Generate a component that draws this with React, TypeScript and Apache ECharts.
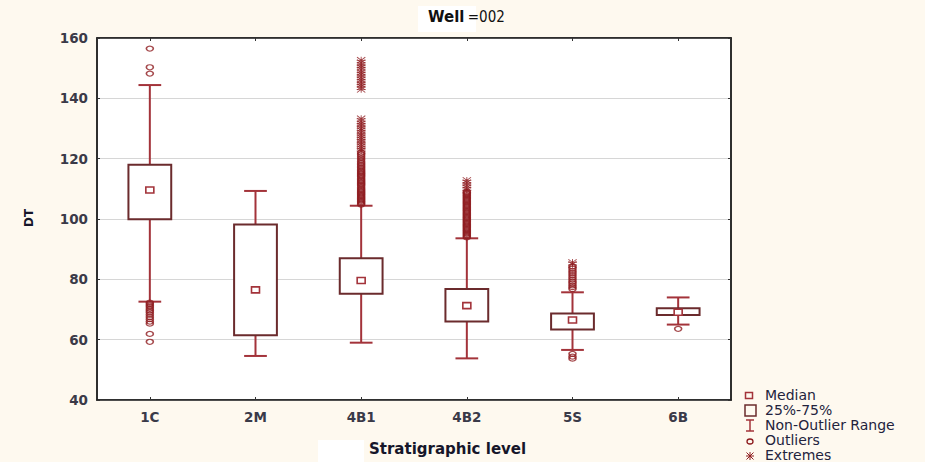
import React, { useEffect, useRef } from "react";
import * as echarts from "echarts";

const categories = ["1C", "2M", "4B1", "4B2", "5S", "6B"];
const yTicks = [40, 60, 80, 100, 120, 140, 160];

// box statistics per stratigraphic level
const whiskerLow = [72.6, 54.6, 59.0, 53.8, 56.6, 65.0];
const q1 = [99.9, 61.5, 75.2, 66.0, 63.4, 68.2];
const medianVals = [109.6, 76.5, 79.6, 71.3, 66.5, 69.1];
const q3 = [118.0, 98.2, 87.0, 76.8, 68.7, 70.4];
const whiskerHigh = [144.4, 109.3, 104.4, 93.6, 75.7, 74.0];

// outliers (circles) per level
const outliers1C = [156.5, 150.3, 148.2, 72.3, 71.8, 71.3, 70.8, 70.2, 69.6, 69.0, 68.3, 67.5, 66.8, 66.0, 65.3, 61.9, 59.3];
const outliers2M: number[] = [];
const outliers4B1 = [104.8, 105.2, 105.6, 106.0, 106.4, 106.8, 107.2, 107.6, 108.0, 108.4, 108.8, 109.2, 109.6, 110.0, 110.5, 111.0, 111.4, 111.8, 112.2, 112.6, 113.0, 113.5, 114.0, 114.4, 114.8, 115.2, 115.6, 116.0, 116.5, 117.0, 117.5, 118.0, 118.5, 119.0, 119.6, 120.2, 120.8, 121.4, 122.0];
const outliers4B2 = [93.9, 94.3, 94.7, 95.1, 95.5, 95.9, 96.3, 96.7, 97.1, 97.5, 97.9, 98.3, 98.7, 99.1, 99.5, 99.9, 100.3, 100.7, 101.1, 101.5, 101.9, 102.3, 102.7, 103.1, 103.5, 103.9, 104.3, 104.7, 105.1, 105.5, 105.9, 106.3, 106.7, 107.1, 107.5, 107.9, 108.3, 108.7, 109.0];
const outliers5S = [76.8, 77.4, 78.0, 78.7, 79.3, 80.0, 80.7, 81.4, 82.1, 82.8, 83.5, 84.2, 55.3, 54.4, 53.7];
const outliers6B = [63.6];

// extremes (asterisks) per level
const extremes1C: number[] = [];
const extremes2M: number[] = [];
const extremes4B1 = [122.6, 123.3, 124.0, 124.8, 125.5, 126.3, 127.0, 127.8, 128.5, 129.3, 130.0, 130.8, 131.6, 132.4, 133.2, 143.0, 143.8, 144.6, 145.4, 146.2, 147.0, 147.8, 148.6, 149.4, 150.2, 151.0, 151.8, 152.6];
const extremes4B2 = [109.6, 110.4, 111.2, 112.0, 112.8];
const extremes5S = [85.0, 85.6];
const extremes6B: number[] = [];

const outlierLists = [outliers1C, outliers2M, outliers4B1, outliers4B2, outliers5S, outliers6B];
const extremeLists = [extremes1C, extremes2M, extremes4B1, extremes4B2, extremes5S, extremes6B];

const legendItems = ["Median", "25%-75%", "Non-Outlier Range", "Outliers", "Extremes"];

const WHISKER = "#a3333a";
const BOXC = "#6b2b2d";
const PT = "#8e1c1f";
const BG = "#fef9ef";

const ASTERISK =
  "path://M4.5,0h1v10h-1z M0,4.5h10v1h-10z M0.8,0L10,9.2L9.2,10L0,0.8z M9.2,0L10,0.8L0.8,10L0,9.2z";

export default function App() {
  const ref = useRef<HTMLDivElement>(null);
  useEffect(() => {
    if (!ref.current) return;
    const chart = echarts.init(ref.current, null, { renderer: "svg" });

    const boxData = categories.map((_, i) => [i, whiskerLow[i], q1[i], medianVals[i], q3[i], whiskerHigh[i]]);
    const outData: number[][] = [];
    outlierLists.forEach((arr, i) => arr.forEach((v) => outData.push([i, v])));
    const extData: number[][] = [];
    extremeLists.forEach((arr, i) => arr.forEach((v) => extData.push([i, v])));

    const tickFont = {
      fontFamily: "DejaVu Sans, Arial",
      fontSize: 13.5,
      fontWeight: "bold" as const,
      color: "#3a3a48",
    };

    const legendY = [396, 411, 426, 441, 456];
    const legendGraphics: any[] = legendItems.map((t, i) => ({
      type: "text",
      left: 765,
      top: legendY[i] - 8,
      style: {
        text: t,
        fill: "#23233d",
        font: "14px 'DejaVu Sans', Arial",
      },
    }));

    const option: any = {
      animation: false,
      backgroundColor: BG,
      grid: {
        left: 97,
        right: 194,
        top: 38,
        bottom: 62,
        show: true,
        backgroundColor: "#ffffff",
        borderColor: "#222",
        borderWidth: 1.5,
      },
      xAxis: [
        {
          type: "category",
          data: categories,
          position: "bottom",
          axisLine: { show: true, lineStyle: { color: "#222", width: 1.5 } },
          axisTick: { show: true, inside: true, alignWithLabel: true, length: 3, lineStyle: { color: "#333" } },
          axisLabel: { ...tickFont, margin: 10 },
          splitLine: { show: false },
        },
        {
          type: "category",
          data: categories,
          position: "top",
          axisLine: { show: true, lineStyle: { color: "#222", width: 1.5 } },
          axisTick: { show: true, inside: true, alignWithLabel: true, length: 3, lineStyle: { color: "#333" } },
          axisLabel: { show: false },
        },
      ],
      yAxis: [
        {
          type: "value",
          min: yTicks[0],
          max: yTicks[yTicks.length - 1],
          interval: 20,
          axisLine: { show: true, lineStyle: { color: "#222", width: 1.5 } },
          axisTick: { show: true, inside: true, length: 3, lineStyle: { color: "#333" } },
          axisLabel: { ...tickFont, margin: 9 },
          splitLine: { show: true, lineStyle: { color: "#d6d6d6", width: 1.2 } },
        },
        {
          type: "value",
          position: "right",
          min: yTicks[0],
          max: yTicks[yTicks.length - 1],
          interval: 20,
          axisLine: { show: true, lineStyle: { color: "#222", width: 1.5 } },
          axisTick: { show: true, inside: true, length: 3, lineStyle: { color: "#333" } },
          axisLabel: { show: false },
          splitLine: { show: false },
        },
      ],
      series: [
        {
          type: "custom",
          xAxisIndex: 0,
          yAxisIndex: 0,
          data: boxData,
          encode: { x: 0, y: [1, 2, 3, 4, 5] },
          z: 3,
          renderItem: (params: any, api: any) => {
            const x = api.value(0);
            const lo = api.coord([x, api.value(1)]);
            const a = api.coord([x, api.value(2)]);
            const m = api.coord([x, api.value(3)]);
            const b = api.coord([x, api.value(4)]);
            const hi = api.coord([x, api.value(5)]);
            const band = api.size([1, 0])[0];
            const bw = band * 0.405;
            const cw = band * 0.215;
            const cx = m[0];
            const ws = { stroke: WHISKER, lineWidth: 2 };
            return {
              type: "group",
              children: [
                { type: "line", shape: { x1: cx, y1: hi[1], x2: cx, y2: b[1] }, style: ws },
                { type: "line", shape: { x1: cx, y1: a[1], x2: cx, y2: lo[1] }, style: ws },
                { type: "line", shape: { x1: cx - cw / 2, y1: hi[1], x2: cx + cw / 2, y2: hi[1] }, style: ws },
                { type: "line", shape: { x1: cx - cw / 2, y1: lo[1], x2: cx + cw / 2, y2: lo[1] }, style: ws },
                {
                  type: "rect",
                  shape: { x: cx - bw / 2, y: b[1], width: bw, height: a[1] - b[1] },
                  style: { fill: "#fff", stroke: BOXC, lineWidth: 2 },
                },
                {
                  type: "rect",
                  shape: { x: cx - 4, y: m[1] - 3, width: 8, height: 6 },
                  style: { fill: "#fff", stroke: WHISKER, lineWidth: 1.6 },
                },
              ],
            };
          },
        },
        {
          type: "scatter",
          name: "Outliers",
          xAxisIndex: 0,
          yAxisIndex: 0,
          data: outData,
          symbol: "circle",
          symbolSize: [7, 5],
          z: 4,
          itemStyle: { color: "none", borderColor: PT, borderWidth: 1.4 },
        },
        {
          type: "scatter",
          name: "Extremes",
          xAxisIndex: 0,
          yAxisIndex: 0,
          data: extData,
          symbol: ASTERISK,
          symbolSize: [9, 7],
          z: 4,
          itemStyle: { color: PT },
        },
      ],
      graphic: [
        { type: "rect", left: 418, top: 6, shape: { width: 58, height: 26 }, style: { fill: "#ffffff" }, z: 0 },
        { type: "rect", left: 318, top: 440, shape: { width: 46, height: 22 }, style: { fill: "#ffffff" }, z: 0 },
        {
          type: "text",
          left: 428,
          top: 9,
          z: 5,
          style: {
            text: "{a|Well} {b|=002}",
            rich: {
              a: { fontFamily: "DejaVu Sans", fontWeight: "bold", fontSize: 15, fill: "#111" },
              b: { fontFamily: "'Liberation Sans Narrow', 'DejaVu Sans Condensed', 'Liberation Sans'", fontSize: 15, fill: "#111" },
            },
          },
        },
        {
          type: "text",
          left: 369,
          top: 441,
          z: 5,
          style: {
            text: "Stratigraphic level",
            font: "bold 15px 'DejaVu Sans', Arial",
            fill: "#16162a",
          },
        },
        {
          type: "text",
          x: 29,
          y: 218,
          rotation: Math.PI / 2,
          z: 5,
          style: {
            text: "DT",
            font: "bold 12px 'DejaVu Sans', Arial",
            fill: "#16162a",
            align: "center",
            verticalAlign: "middle",
          },
        },
        // legend symbols
        { type: "rect", shape: { x: 745.5, y: 392.5, width: 7, height: 6 }, style: { fill: "none", stroke: WHISKER, lineWidth: 1.5 } },
        { type: "rect", shape: { x: 745, y: 405, width: 11, height: 11 }, style: { fill: "none", stroke: BOXC, lineWidth: 1.5 } },
        { type: "line", shape: { x1: 750, y1: 420, x2: 750, y2: 431 }, style: { stroke: WHISKER, lineWidth: 1.5 } },
        { type: "line", shape: { x1: 746, y1: 420, x2: 754, y2: 420 }, style: { stroke: WHISKER, lineWidth: 1.5 } },
        { type: "line", shape: { x1: 746, y1: 431, x2: 754, y2: 431 }, style: { stroke: WHISKER, lineWidth: 1.5 } },
        { type: "ellipse", shape: { cx: 750, cy: 441.5, rx: 3, ry: 2.5 }, style: { fill: "none", stroke: PT, lineWidth: 1.3 } },
        { type: "line", shape: { x1: 746, y1: 456, x2: 754, y2: 456 }, style: { stroke: PT, lineWidth: 1 } },
        { type: "line", shape: { x1: 750, y1: 452, x2: 750, y2: 460 }, style: { stroke: PT, lineWidth: 1 } },
        { type: "line", shape: { x1: 746.5, y1: 452.5, x2: 753.5, y2: 459.5 }, style: { stroke: PT, lineWidth: 1 } },
        { type: "line", shape: { x1: 753.5, y1: 452.5, x2: 746.5, y2: 459.5 }, style: { stroke: PT, lineWidth: 1 } },
        ...legendGraphics,
      ],
    };
    chart.setOption(option);
    return () => chart.dispose();
  }, []);
  return (
    <div
      ref={ref}
      style={{ position: "fixed", left: 0, top: 0, width: 925, height: 462, background: BG }}
    />
  );
}
